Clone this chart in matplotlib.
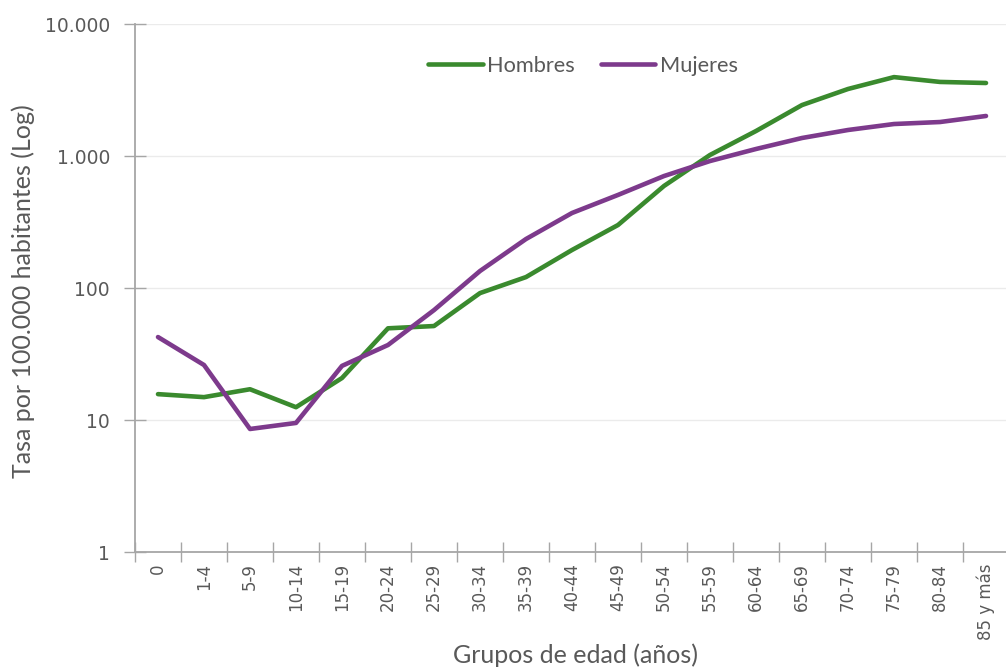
import matplotlib
matplotlib.use("Agg")
import matplotlib.pyplot as plt
from matplotlib.ticker import FixedLocator, NullLocator

categories = ["0", "1-4", "5-9", "10-14", "15-19", "20-24", "25-29", "30-34",
              "35-39", "40-44", "45-49", "50-54", "55-59", "60-64", "65-69",
              "70-74", "75-79", "80-84", "85 y más"]
hombres = [15.7, 14.9, 17.1, 12.5, 20.8, 49.5, 51.5, 91.5, 121, 194, 300,
           593, 1018, 1546, 2432, 3218, 3960, 3640, 3573]
mujeres = [42.5, 26.1, 8.55, 9.5, 25.7, 37, 68, 134.5, 235, 370, 507,
           705, 916, 1130, 1369, 1574, 1747, 1809, 2010]
y_ticks = [1, 10, 100, 1000, 10000]
y_tick_labels = ["1", "10", "100", "1.000", "10.000"]

GREEN = "#3A8A2E"
PURPLE = "#7D3A8C"
GRAY_TXT = "#595959"
AXIS_C = "#A6A6A6"
TITLE_FONT = ["Lato", "DejaVu Sans"]

W, H = 1006, 668
fig = plt.figure(figsize=(W / 100, H / 100), dpi=100)
left, right, top, bottom = 135, 1009, 24, 552
ax = fig.add_axes([left / W, 1 - bottom / H, (right - left) / W, (bottom - top) / H])

x = list(range(len(categories)))
ax.plot(x, hombres, color=GREEN, lw=3.3, solid_capstyle="round", solid_joinstyle="round", label="Hombres", zorder=3)
ax.plot(x, mujeres, color=PURPLE, lw=3.3, solid_capstyle="round", solid_joinstyle="round", label="Mujeres", zorder=3)

ax.set_yscale("log")
ax.set_ylim(1, 10000)
ax.set_xlim(-0.5, len(categories) - 0.5)
ax.yaxis.set_major_locator(FixedLocator(y_ticks))
ax.yaxis.set_minor_locator(NullLocator())
ax.set_yticks(y_ticks)
ax.set_yticklabels(y_tick_labels)

ax.set_xticks(x)
ax.set_xticklabels(categories, rotation=90)
ax.set_xticks([i - 0.5 for i in range(len(categories) + 1)], minor=True)
ax.tick_params(axis="x", which="major", length=0, pad=8, labelsize=12, labelcolor=GRAY_TXT)
ax.tick_params(axis="x", which="minor", length=14, direction="inout", color=AXIS_C, width=1)
ax.tick_params(axis="y", which="major", length=16, direction="inout", color=AXIS_C, width=1,
               labelsize=13.5, labelcolor=GRAY_TXT, pad=10)
for lab in ax.get_xticklabels() + ax.get_yticklabels():
    lab.set_family("DejaVu Sans")

ax.grid(axis="y", color="#EBEBEB", lw=1, zorder=0)
for s in ["top", "right"]:
    ax.spines[s].set_visible(False)
for s in ["left", "bottom"]:
    ax.spines[s].set_color(AXIS_C)
    ax.spines[s].set_linewidth(1.3)

ax.set_ylabel("Tasa por 100.000 habitantes (Log)", family=TITLE_FONT, fontsize=18, color=GRAY_TXT)
ax.set_xlabel("Grupos de edad (años)", family=TITLE_FONT, fontsize=18, color=GRAY_TXT)
ax.yaxis.set_label_coords(-100 / (right - left), (552 - 291) / (bottom - top))
ax.xaxis.set_label_coords((575 - left) / (right - left), -(643 - bottom) / (bottom - top))

leg = ax.legend(loc="center", bbox_to_anchor=((583 - left) / (right - left), (552 - 66) / (bottom - top)),
                ncol=2, frameon=False, prop={"family": TITLE_FONT, "size": 15.7},
                handlelength=2.5, handletextpad=0.2, columnspacing=1.2)
for t in leg.get_texts():
    t.set_color(GRAY_TXT)
for h in leg.get_lines():
    h.set_solid_capstyle("round")

fig.savefig("out.png", dpi=100)
